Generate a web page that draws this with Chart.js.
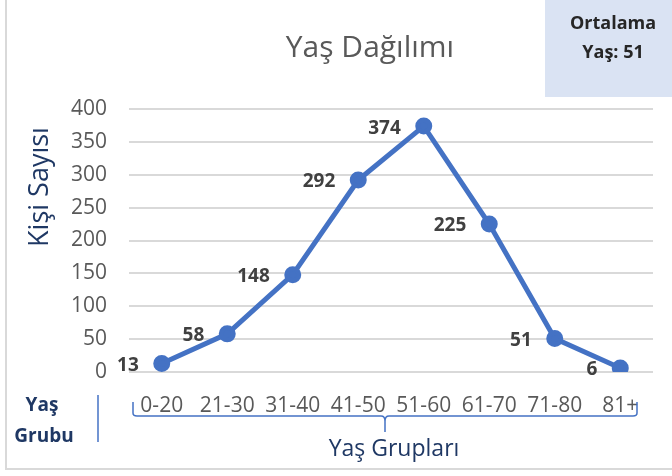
<!DOCTYPE html>
<html>
<head>
<meta charset="utf-8">
<script src="https://cdn.jsdelivr.net/npm/chart.js@4"></script>
<style>
  html, body { margin: 0; padding: 0; background: #fff; }
  #wrap { width: 672px; height: 476px; position: relative; }
</style>
</head>
<body>
<div id="wrap"><canvas id="myChart" width="672" height="476"></canvas></div>
<script>
const ageGroups = ['0-20', '21-30', '31-40', '41-50', '51-60', '61-70', '71-80', '81+'];
const personCounts = [13, 58, 148, 292, 374, 225, 51, 6];
const yTicks = [0, 50, 100, 150, 200, 250, 300, 350, 400];

const chartTitle = 'Yaş Dağılımı';
const yTitle = 'Kişi Sayısı';
const xTitle = 'Yaş Grupları';
const sideLabel = ['Yaş', 'Grubu'];
const avgBox = ['Ortalama', 'Yaş: 51'];

const FONT = '"Open Sans", sans-serif';
const navy = '#1f3864';
const blue = '#4472c4';

// everything that is not a scale or the line itself
const decor = {
  id: 'decor',
  beforeDraw(chart) {
    const c = chart.ctx;
    c.save();
    c.fillStyle = '#fff';
    c.fillRect(0, 0, 672, 476);
    // frame
    c.strokeStyle = '#d9d9d9';
    c.lineWidth = 2;
    c.strokeRect(6, -2, 680, 471);
    // average box
    c.fillStyle = '#dae3f3';
    c.fillRect(545, 0, 127, 97);
    c.restore();
  },
  afterDraw(chart) {
    const c = chart.ctx;
    const x = chart.scales.x;
    const y = chart.scales.y;
    c.save();
    c.textAlign = 'center';
    c.textBaseline = 'alphabetic';

    c.fillStyle = '#262626';
    c.font = 'bold 18px ' + FONT;
    c.fillText(avgBox[0], 613, 29);
    c.fillText(avgBox[1], 613, 58);

    c.fillStyle = '#595959';
    c.font = '30px ' + FONT;
    c.fillText(chartTitle, 370, 57);

    c.save();
    c.translate(50, 187);
    c.rotate(-Math.PI / 2);
    c.fillStyle = navy;
    c.font = '27px ' + FONT;
    c.textBaseline = 'middle';
    c.fillText(yTitle, 0, -10);
    c.restore();

    c.fillStyle = navy;
    c.font = '23px ' + FONT;
    c.fillText(xTitle, 394, 456);

    c.font = 'bold 19px ' + FONT;
    c.fillText(sideLabel[0], 42, 411);
    c.fillText(sideLabel[1], 44, 442);

    c.strokeStyle = blue;
    c.lineWidth = 1.5;
    c.beginPath();
    c.moveTo(98, 395);
    c.lineTo(98, 442);
    c.stroke();

    // bracket under the category labels
    const l = x.left + 4, r = x.right - 16, m = (l + r) / 2, by = 416;
    c.beginPath();
    c.moveTo(l, 402);
    c.lineTo(l, by - 3);
    c.quadraticCurveTo(l, by, l + 4, by);
    c.lineTo(m - 4, by);
    c.quadraticCurveTo(m, by, m, by + 5);
    c.lineTo(m, 432);
    c.moveTo(m, by + 5);
    c.quadraticCurveTo(m, by, m + 4, by);
    c.lineTo(r - 4, by);
    c.quadraticCurveTo(r, by, r, by - 3);
    c.lineTo(r, 402);
    c.stroke();

    // value labels left of each point
    c.fillStyle = '#404040';
    c.font = 'bold 19px ' + FONT;
    c.textAlign = 'right';
    c.textBaseline = 'middle';
    personCounts.forEach((v, i) => {
      c.fillText(String(v), x.getPixelForValue(i) - 23, y.getPixelForValue(v) + 2);
    });
    c.restore();
  }
};

const ctx = document.getElementById('myChart').getContext('2d');
const myChart = new Chart(ctx, {
  type: 'line',
  data: {
    labels: ageGroups,
    datasets: [{
      label: yTitle,
      data: personCounts,
      borderColor: blue,
      backgroundColor: blue,
      borderWidth: 5,
      pointRadius: 6,
      pointBackgroundColor: blue,
      pointBorderColor: blue,
      tension: 0
    }]
  },
  options: {
    responsive: false,
    animation: false,
    layout: { padding: { left: 0, right: 19, top: 109, bottom: 0 } },
    plugins: {
      legend: { display: false },
      tooltip: { enabled: false },
      title: { display: false }
    },
    scales: {
      x: {
        offset: true,
        grid: { display: false },
        border: { display: false },
        ticks: {
          color: '#595959',
          font: { family: 'Open Sans', size: 21 },
          padding: 13,
          maxRotation: 0,
          autoSkip: false
        },
        afterFit(s) { s.height = 104; }
      },
      y: {
        min: 0,
        max: 400,
        afterBuildTicks(s) { s.ticks = yTicks.map(v => ({ value: v })); },
        grid: { color: '#d9d9d9', lineWidth: 2, drawTicks: false },
        border: { display: false },
        ticks: {
          color: '#595959',
          font: { family: 'Open Sans', size: 21 },
          padding: 22
        },
        afterFit(s) { s.width = 129; }
      }
    }
  },
  plugins: [decor]
});
</script>
</body>
</html>
